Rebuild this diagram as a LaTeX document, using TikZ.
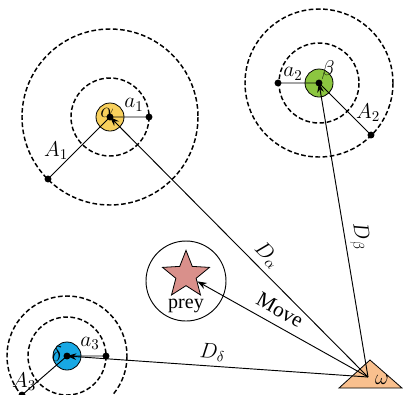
\RequirePackage{fix-cm}
\documentclass[tikz,border=0pt]{standalone}
\usepackage{fontspec}
\setmainfont{Liberation Serif}
\usetikzlibrary{shapes.geometric, arrows.meta, positioning}
\definecolor{alphaYellow}{HTML}{F8D05C}
\definecolor{betaGreen}{HTML}{8CC640}
\definecolor{deltaBlue}{HTML}{18A8E4}
\definecolor{omegaPeach}{HTML}{F9C08E}
\definecolor{preyRose}{HTML}{D9908B}
\tikzstyle{wolf} = [circle, draw=black, line width=0.6pt, minimum size=21pt, inner sep=0pt]
\tikzstyle{ring} = [line width=1.1pt, dash pattern=on 3.5pt off 1.9pt]
\tikzstyle{dot} = [circle, fill=black, minimum size=5.2pt, inner sep=0pt]
\tikzstyle{armline} = [line width=0.7pt]
\tikzstyle{arrow} = [line width=0.7pt, -{Stealth[length=7pt, width=5pt]}]
\tikzstyle{mathlbl} = [inner sep=1pt, font=\fontsize{16}{18}\selectfont]

\begin{document}
\begin{tikzpicture}[
        x=0.75pt, y=-0.75pt,
        every node/.style={font=\fontsize{15}{17}\selectfont}
    ]
        \clip (0,0) rectangle (403,394);

        % Omega (bottom right)
        \filldraw [fill=omegaPeach, draw=black, line width=0.6pt] (339,388) -- (370,360) -- (402,388) -- cycle;
        \coordinate (omega) at (368,377);
        \node (omegalbl) [mathlbl] at (382,380) {$\omega$};

        % Leaders
        \node (alpha) [wolf, fill=alphaYellow] at (110,117) {};
        \node (beta) [wolf, fill=betaGreen] at (319,83) {};
        \node (delta) [wolf, fill=deltaBlue] at (67,356) {};
        \node (alphac) [dot] at (alpha.center) {};
        \node (betac) [dot] at (beta.center) {};
        \node (deltac) [dot] at (delta.center) {};

        % Search rings
        \draw [ring] (alpha) circle (39) (alpha) circle (88);
        \draw [ring] (beta) circle (40) (beta) circle (74);
        \draw [ring] (delta) circle (39) (delta) circle (60);

        % Ring points
        \node (a1) [dot] at (149,117) {};
        \node (A1) [dot] at (48,179) {};
        \node (a2) [dot] at (278,83) {};
        \node (A2) [dot] at (371,135) {};
        \node (a3) [dot] at (106,356) {};
        \node (A3) [dot] at (22,395) {};
        \draw [armline] (alphac.center) -- (a1.center) (alphac.center) -- (A1.center);
        \draw [armline] (betac.center) -- (a2.center) (betac.center) -- (A2.center);
        \draw [armline] (deltac.center) -- (a3.center) (deltac.center) -- (A3.center);

        % Labels
        \node (alphalbl) [mathlbl] at (107,113) {$\alpha$};
        \node (betalbl) [mathlbl] at (328,70) {$\beta$};
        \node (deltalbl) [mathlbl] at (57,354) {$\delta$};
        \node (a1lbl) [mathlbl] at (134,105) {$a_1$};
        \node (A1lbl) [mathlbl] at (56,151) {$A_1$};
        \node (a2lbl) [mathlbl] at (293,74) {$a_2$};
        \node (A2lbl) [mathlbl] at (368,113) {$A_2$};
        \node (a3lbl) [mathlbl] at (90,343) {$a_3$};
        \node (A3lbl) [mathlbl] at (24,382) {$A_3$};

        % Prey
        \node (preyring) [circle, draw=black, line width=0.7pt, minimum size=60pt] at (186,281) {};
        \node (star) [star, star points=5, star point height=10.5pt, minimum size=37pt, inner sep=0pt, fill=preyRose, draw=black, line width=0.6pt] at (186,275) {};
        \node (preylbl) [inner sep=1pt] at (186,306) {prey};

        % Distances from omega
        \draw [arrow] (omega) -- (alphac.center) node[mathlbl, pos=0.43, sloped, above=3pt] {$D_\alpha$};
        \draw [arrow] (omega) -- (betac.center) node[mathlbl, pos=0.47, sloped, above=2pt] {$D_\beta$};
        \draw [arrow] (omega) -- (deltac.center) node[mathlbl, pos=0.52, sloped, above=2pt] {$D_\delta$};
        \draw [arrow] (omega) -- (star) node[pos=0.56, sloped, above=2.5pt, font=\fontsize{16}{18}\selectfont] {Move};

    \end{tikzpicture}
\end{document}
